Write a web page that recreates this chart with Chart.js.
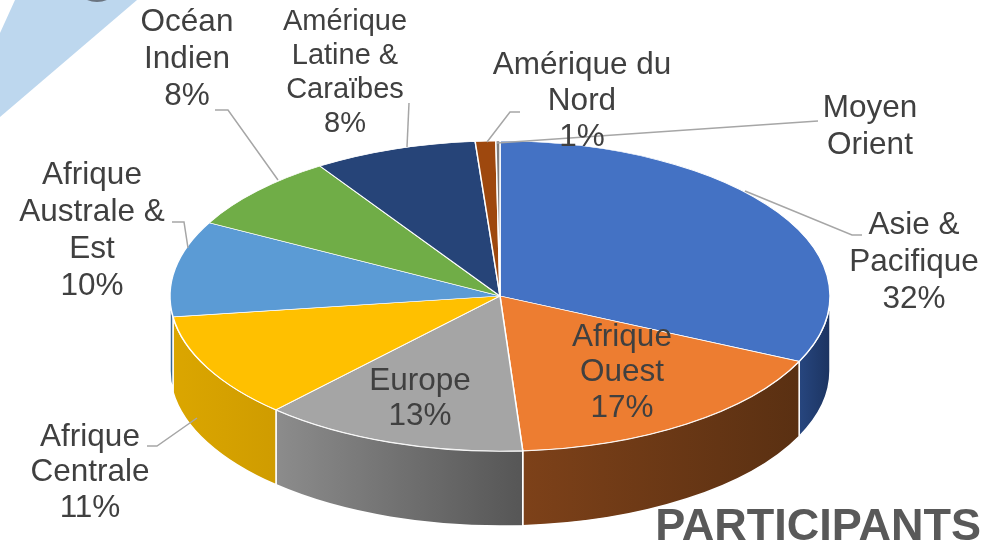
<!DOCTYPE html>
<html>
<head>
<meta charset="utf-8">
<script src="https://cdn.jsdelivr.net/npm/chart.js@4.4.1/dist/chart.umd.min.js"></script>
<style>
  body { margin: 0; background: #fff; }
  canvas { display: block; }
</style>
</head>
<body>
<canvas id="myChart" width="987" height="543"></canvas>
<script>
// data (clockwise from 12 o'clock)
const categories = [
  'Asie & Pacifique', 'Afrique Ouest', 'Europe', 'Afrique Centrale',
  'Afrique Australe & Est', 'Océan Indien', 'Amérique Latine & Caraïbes',
  'Amérique du Nord', 'Moyen Orient'
];
const labelLines = [
  ['Asie &', 'Pacifique'], ['Afrique', 'Ouest'], ['Europe'], ['Afrique', 'Centrale'],
  ['Afrique', 'Australe &', 'Est'], ['Océan', 'Indien'], ['Amérique', 'Latine &', 'Caraïbes'],
  ['Amérique du', 'Nord'], ['Moyen', 'Orient']
];
const shares = [32, 17, 13, 11, 10, 8, 8, 1, 0.2];

const topColors = ['#4472C4', '#ED7D31', '#A5A5A5', '#FFC000', '#5B9BD5', '#70AD47', '#264478', '#9E480E', '#7F7F7F'];
const sideColors = [
  ['#27467f', '#1c3461'], ['#7d4119', '#5a3012'], ['#8c8c8c', '#565656'], ['#dba600', '#cf9c00'],
  ['#3f72a3', '#325d87'], ['#538233', '#446b2a'], ['#1b3259', '#152744'], ['#6e320a', '#592808'], ['#555', '#444']
];

// where the tilted pie sits on the page
const ell = { x: 500, y: 296, rx: 330, ry: 155, depth: 75 };

// label text placement: [centre x, first line y, line height, font size]
const labelLayout = [
  [914, 225, 37, 31.5], [622, 337, 35.5, 31.5], [420, 381, 35, 31.5], [90, 437, 35.5, 31.5],
  [92, 175, 37, 31.5], [187, 22, 37, 31.5], [345, 22, 34, 29], [582, 65, 36, 31.5], [870, 108, 37, 31.5]
];
const leaders = [
  [[862, 235], [852, 235], [745, 191]],
  null,
  null,
  [[147, 446], [157, 446], [197, 418]],
  [[172, 222], [184, 222], [188, 248]],
  [[215, 110], [228, 110], [278, 180]],
  [[409, 103], [407, 147]],
  [[520, 112], [510, 112], [487, 142]],
  [[818, 121], [497, 143]]
];

const total = shares.reduce((acc, v) => acc + v, 0);

const tiltPlugin = {
  id: 'tilt',
  beforeDraw(chart) {
    const ctx = chart.ctx;
    ctx.save();
    ctx.fillStyle = '#BDD7EE';
    ctx.beginPath();
    ctx.moveTo(15, 0); ctx.lineTo(137, 0); ctx.lineTo(0, 117); ctx.lineTo(0, 33);
    ctx.closePath();
    ctx.fill();
    ctx.fillStyle = '#6b7480';
    ctx.beginPath();
    ctx.arc(97, -24, 26, 0, Math.PI * 2);
    ctx.fill();
    ctx.restore();
  },
  beforeDatasetsDraw(chart) {
    const ctx = chart.ctx;
    const arcs = chart.getDatasetMeta(0).data;
    // side walls of the front half
    ctx.save();
    arcs.forEach((el, i) => {
      const s = Math.max(el.startAngle, 0);
      const e = Math.min(el.endAngle, Math.PI);
      if (s >= e) return;
      const xa = ell.x + ell.rx * Math.cos(s);
      const xb = ell.x + ell.rx * Math.cos(e);
      const g = ctx.createLinearGradient(Math.min(xa, xb), 0, Math.max(xa, xb), 0);
      g.addColorStop(0, sideColors[i][0]);
      g.addColorStop(1, sideColors[i][1]);
      ctx.beginPath();
      ctx.ellipse(ell.x, ell.y, ell.rx, ell.ry, 0, s, e, false);
      ctx.lineTo(xb, ell.y + ell.ry * Math.sin(e) + ell.depth);
      ctx.ellipse(ell.x, ell.y + ell.depth, ell.rx, ell.ry, 0, e, s, true);
      ctx.closePath();
      ctx.fillStyle = g;
      ctx.fill();
      ctx.strokeStyle = '#fff';
      ctx.lineWidth = 1.5;
      ctx.stroke();
    });
    ctx.restore();
    // squash the library's round pie into the top face
    const a = arcs[0];
    ctx.save();
    ctx.translate(ell.x, ell.y);
    ctx.scale(ell.rx / a.outerRadius, ell.ry / a.outerRadius);
    ctx.translate(-a.x, -a.y);
  },
  afterDatasetsDraw(chart) {
    const ctx = chart.ctx;
    ctx.restore();
    ctx.save();
    ctx.strokeStyle = '#A6A6A6';
    ctx.lineWidth = 1.5;
    leaders.forEach(pts => {
      if (!pts) return;
      ctx.beginPath();
      pts.forEach((p, k) => k ? ctx.lineTo(p[0], p[1]) : ctx.moveTo(p[0], p[1]));
      ctx.stroke();
    });
    ctx.fillStyle = '#404040';
    ctx.textAlign = 'center';
    ctx.textBaseline = 'middle';
    labelLines.forEach((lines, i) => {
      const [cx, y0, lh, fs] = labelLayout[i];
      const pct = Math.round(shares[i] / total * 100);
      const all = pct > 0 ? lines.concat([pct + '%']) : lines;
      ctx.font = fs + "px 'Liberation Sans', Arial, sans-serif";
      all.forEach((t, k) => ctx.fillText(t, cx, y0 + k * lh));
    });
    ctx.fillStyle = '#595959';
    ctx.textAlign = 'right';
    ctx.textBaseline = 'alphabetic';
    ctx.font = "bold 45px 'Liberation Sans', Arial, sans-serif";
    ctx.fillText('PARTICIPANTS', 981, 540);
    ctx.restore();
  }
};

const myChart = new Chart(document.getElementById('myChart').getContext('2d'), {
  type: 'pie',
  data: {
    labels: categories,
    datasets: [{
      data: shares,
      backgroundColor: topColors,
      borderColor: '#fff',
      borderWidth: 1.2
    }]
  },
  options: {
    responsive: false,
    animation: false,
    plugins: { legend: { display: false }, tooltip: { enabled: false } }
  },
  plugins: [tiltPlugin]
});
</script>
</body>
</html>
